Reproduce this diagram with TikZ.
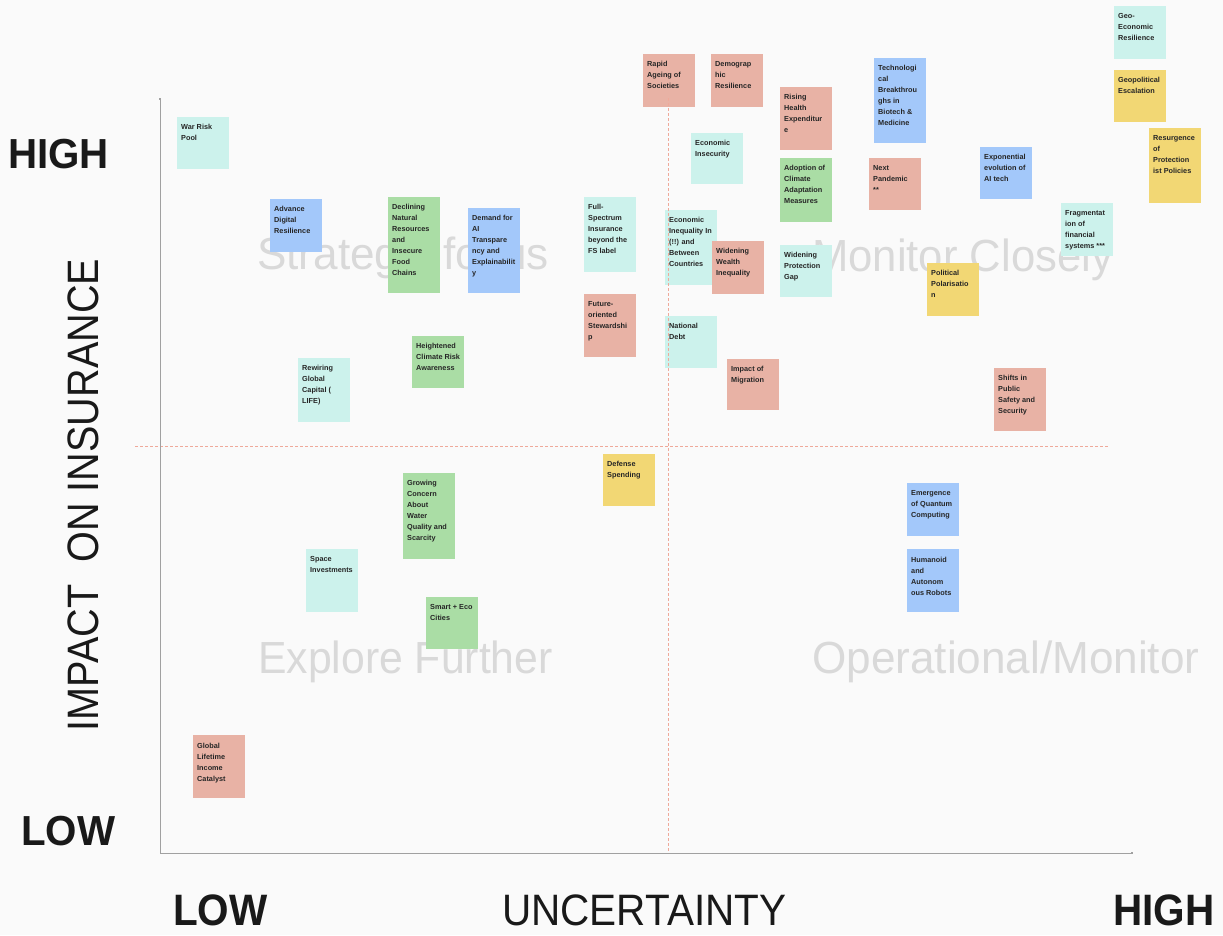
\documentclass[tikz,border=0pt]{standalone}
\usepackage{fontspec}
\setmainfont{Liberation Sans}
\usetikzlibrary{arrows.meta}
\definecolor{notecyan}{HTML}{CCF2EC}
\definecolor{noteblue}{HTML}{A3C8FA}
\definecolor{notegreen}{HTML}{AADDA5}
\definecolor{notered}{HTML}{E8B2A5}
\definecolor{noteyellow}{HTML}{F2D774}
\definecolor{bgpaper}{HTML}{FAFAFA}
\definecolor{watermark}{HTML}{D9D9D9}
\definecolor{splitline}{HTML}{EFA99A}
\definecolor{axisgray}{HTML}{A0A0A0}
\newcommand\notefont{\fontsize{7.3}{11}\selectfont\bfseries\color{black!85}}
\tikzset{%
pics/.cd,
note/.style args={#1#2#3#4}{
  code={\node[fill=#1,anchor=north west,inner xsep=4pt,inner ysep=0pt,font=\notefont] (#3)
        {\parbox[t][#2][t]{44pt}{\raggedright\vspace*{7.5pt}#4}};
  }
},
}
\tikzset{%
quadrant/.style={text=watermark,font=\fontsize{45}{45}\selectfont,anchor=base west,inner sep=0pt},
bigbold/.style={font=\fontsize{42}{42}\selectfont\bfseries,text=black!90,anchor=base west,inner sep=0pt},
axislabel/.style={font=\fontsize{44}{44}\selectfont,text=black!90,anchor=base west,inner sep=0pt},
split/.style={splitline,densely dashed,line width=0.6pt},
axis/.style={axisgray,line width=1pt},
}

\begin{document}
\begin{tikzpicture}[x=1pt,y=-1pt]
 \fill[bgpaper] (0,0) rectangle (1223,935);
 \useasboundingbox (0,0) rectangle (1223,935);
 % quadrant names
 \node[quadrant] (strat) at (257,269) {\scalebox{0.98}[1]{Strategic focus}};
 \node[quadrant] (monit) at (812,271) {\scalebox{0.97}[1]{Monitor Closely}};
 \node[quadrant] (explo) at (258,673) {\scalebox{0.95}[1]{Explore Further}};
 \node[quadrant] (opera) at (812,673) {\scalebox{0.98}[1]{Operational/Monitor}};
 % notes
 \pic at (177,117) {note={notecyan}{52pt}{war}{War Risk\\Pool}};
 \pic at (270,199) {note={noteblue}{53pt}{digital}{Advance\\Digital\\Resilience}};
 \pic at (388,197) {note={notegreen}{96pt}{natres}{Declining\\Natural\\Resources\\and\\Insecure\\Food\\Chains}};
 \pic at (468,208) {note={noteblue}{85pt}{aitrans}{Demand for\\AI\\Transpare\\ncy and\\Explainabilit\\y}};
 \pic at (643,54) {note={notered}{53pt}{ageing}{Rapid\\Ageing of\\Societies}};
 \pic at (711,54) {note={notered}{53pt}{demores}{Demograp\\hic\\Resilience}};
 \pic at (780,87) {note={notered}{63pt}{health}{Rising\\Health\\Expenditur\\e}};
 \pic at (691,133) {note={notecyan}{51pt}{econinsec}{Economic\\Insecurity}};
 \pic at (780,158) {note={notegreen}{64pt}{climadapt}{Adoption of\\Climate\\Adaptation\\Measures}};
 \pic at (584,197) {note={notecyan}{75pt}{fullspec}{Full-\\Spectrum\\Insurance\\beyond the\\FS label}};
 \pic at (665,210) {note={notecyan}{75pt}{econineq}{Economic\\Inequality In\\(!!) and\\Between\\Countries}};
 \pic at (712,241) {note={notered}{53pt}{wealth}{Widening\\Wealth\\Inequality}};
 \pic at (780,245) {note={notecyan}{52pt}{protgap}{Widening\\Protection\\Gap}};
 \pic at (1114,6) {note={notecyan}{53pt}{geoecon}{Geo-\\Economic\\Resilience}};
 \pic at (1114,70) {note={noteyellow}{52pt}{geopol}{Geopolitical\\Escalation}};
 \pic at (874,58) {note={noteblue}{85pt}{biotech}{Technologi\\cal\\Breakthrou\\ghs in\\Biotech \&\\Medicine}};
 \pic at (869,158) {note={notered}{52pt}{pandemic}{Next\\Pandemic\\***}};
 \pic at (980,147) {note={noteblue}{52pt}{aitech}{Exponential\\evolution of\\AI tech}};
 \pic at (1149,128) {note={noteyellow}{75pt}{protect}{Resurgence\\of\\Protection\\ist Policies}};
 \pic at (1061,203) {note={notecyan}{53pt}{finfrag}{Fragmentat\\ion of\\financial\\systems ***}};
 \pic at (927,263) {note={noteyellow}{53pt}{polar}{Political\\Polarisatio\\n}};
 \pic at (298,358) {note={notecyan}{64pt}{rewire}{Rewiring\\Global\\Capital (\\LIFE)}};
 \pic at (412,336) {note={notegreen}{52pt}{climrisk}{Heightened\\Climate Risk\\Awareness}};
 \pic at (584,294) {note={notered}{63pt}{steward}{Future-\\oriented\\Stewardshi\\p}};
 \pic at (665,316) {note={notecyan}{52pt}{debt}{National\\Debt}};
 \pic at (727,359) {note={notered}{51pt}{migration}{Impact of\\Migration}};
 \pic at (603,454) {note={noteyellow}{52pt}{defense}{Defense\\Spending}};
 \pic at (403,473) {note={notegreen}{86pt}{water}{Growing\\Concern\\About\\Water\\Quality and\\Scarcity}};
 \pic at (306,549) {note={notecyan}{63pt}{space}{Space\\Investments}};
 \pic at (426,597) {note={notegreen}{52pt}{eco}{Smart + Eco\\Cities}};
 \pic at (994,368) {note={notered}{63pt}{safety}{Shifts in\\Public\\Safety and\\Security}};
 \pic at (907,483) {note={noteblue}{53pt}{quantum}{Emergence\\of Quantum\\Computing}};
 \pic at (907,549) {note={noteblue}{63pt}{robots}{Humanoid\\and\\Autonom\\ous Robots}};
 \pic at (193,735) {note={notered}{63pt}{income}{Global\\Lifetime\\Income\\Catalyst}};
 % quadrant split and axes
 \coordinate (vtop) at (668,98);
 \coordinate (vbot) at (668,853);
 \coordinate (hl) at (135,446);
 \coordinate (hr) at (1108,446);
 \draw[split] (vtop) -- (vbot);
 \draw[split] (hl) -- (hr);
 \coordinate (ytop) at (160,98);
 \coordinate (orig) at (160,853);
 \coordinate (xend) at (1133,853);
 \draw[axis,{Square[length=2pt]}-{Square[length=2pt]}] (ytop) -- (orig) -- (xend);
 % axis labels
 \node[bigbold] (yhigh) at (8,168) {\scalebox{0.96}[1]{HIGH}};
 \node[bigbold] (ylow) at (21,845) {\scalebox{0.96}[1]{LOW}};
 \node[font=\fontsize{44}{44}\selectfont,text=black!90,rotate=90,inner sep=0pt] (ylab) at (83.5,495)
   {\scalebox{0.9}[1]{IMPACT\ \ ON INSURANCE}};
 \node[axislabel,font=\fontsize{44}{44}\selectfont\bfseries] (xlow) at (173,925) {\scalebox{0.92}[1]{LOW}};
 \node[axislabel] (xlab) at (502,925) {\scalebox{0.92}[1]{UNCERTAINTY}};
 \node[axislabel,font=\fontsize{44}{44}\selectfont\bfseries] (xhigh) at (1113,925) {\scalebox{0.92}[1]{HIGH}};
\end{tikzpicture}
\end{document}
